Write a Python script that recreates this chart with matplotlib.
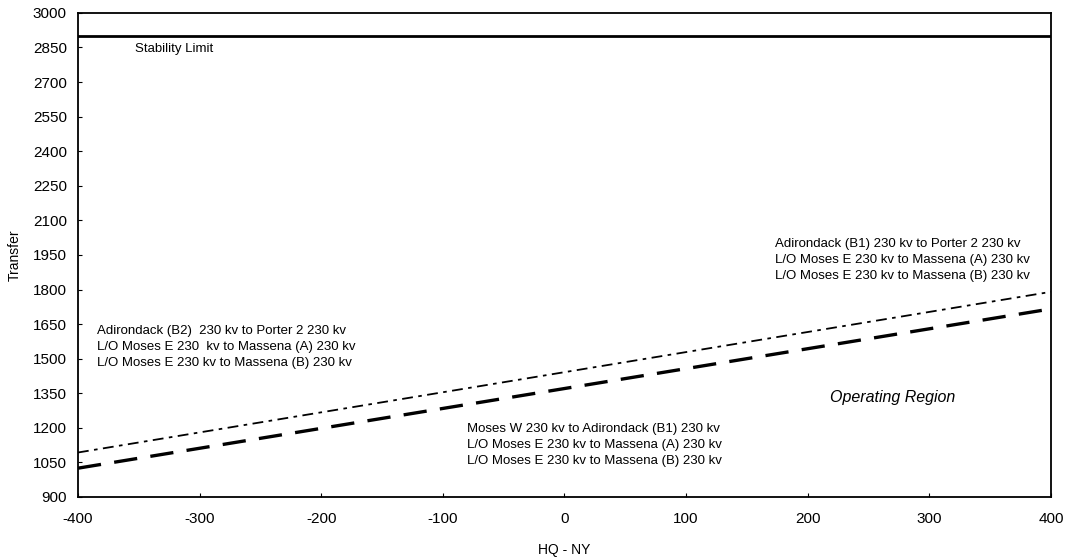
import matplotlib
matplotlib.use("Agg")
import matplotlib.pyplot as plt

plt.rcParams['font.family'] = ['Liberation Sans', 'DejaVu Sans']
plt.rcParams['axes.unicode_minus'] = False

x_vals = [-400, 400]
line_b2 = [1093, 1790]   # dash-dot thin line
line_b1 = [1025, 1716]   # thick dashed line
stability_limit = 2900

x_ticks = [-400, -300, -200, -100, 0, 100, 200, 300, 400]
y_ticks = list(range(900, 3001, 150))

fig = plt.figure(figsize=(10.71, 5.6), dpi=100)
ax = fig.add_axes([0.0728, 0.1125, 0.9085, 0.8645])

ax.plot(x_vals, [stability_limit, stability_limit], color='black', lw=2)
ax.plot(x_vals, line_b2, color='black', lw=1.3, linestyle=(0, (6, 3, 2, 3)))
ax.plot(x_vals, line_b1, color='black', lw=2.4, linestyle=(0, (7, 4)))

ax.set_xlim(-400, 400)
ax.set_ylim(900, 3000)
ax.set_xticks(x_ticks)
ax.set_yticks(y_ticks)
ax.tick_params(direction='in', length=3, labelsize=11)
ax.tick_params(axis='y', pad=8)
ax.tick_params(axis='x', pad=11)
for s in ax.spines.values():
    s.set_linewidth(1.3)

ax.set_ylabel('Transfer', fontsize=10, labelpad=8)
ax.set_xlabel('HQ - NY', fontsize=10, labelpad=12)

fs = 9.5
ax.text(-353, 2844, 'Stability Limit', fontsize=fs, va='center')
ax.text(173, 2024, 'Adirondack (B1) 230 kv to Porter 2 230 kv\nL/O Moses E 230 kv to Massena (A) 230 kv\nL/O Moses E 230 kv to Massena (B) 230 kv',
        fontsize=fs, va='top', linespacing=1.45)
ax.text(-384, 1646, 'Adirondack (B2)  230 kv to Porter 2 230 kv\nL/O Moses E 230  kv to Massena (A) 230 kv\nL/O Moses E 230 kv to Massena (B) 230 kv',
        fontsize=fs, va='top', linespacing=1.45)
ax.text(-80, 1221, 'Moses W 230 kv to Adirondack (B1) 230 kv\nL/O Moses E 230 kv to Massena (A) 230 kv\nL/O Moses E 230 kv to Massena (B) 230 kv',
        fontsize=fs, va='top', linespacing=1.45)
ax.text(270, 1330, 'Operating Region', fontsize=11.5, style='italic', ha='center', va='center')

fig.savefig('out.png', dpi=100)
